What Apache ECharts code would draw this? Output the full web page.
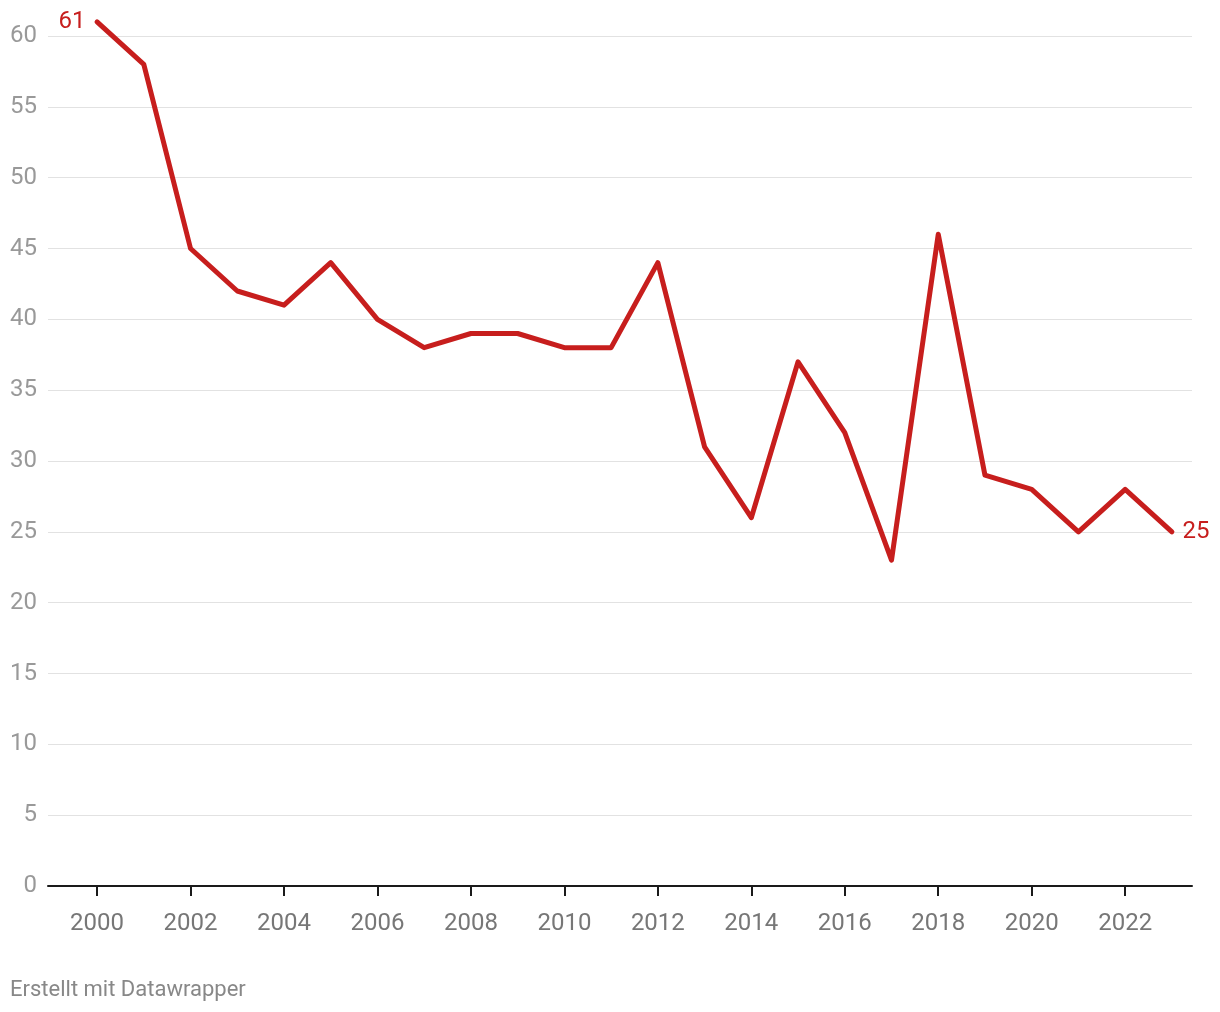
<!DOCTYPE html>
<html>
<head>
<meta charset="utf-8">
<script src="https://cdn.jsdelivr.net/npm/echarts@6/dist/echarts.min.js"></script>
<style>
	html, body { margin: 0; padding: 0; background: #fff; }
	#main { width: 1220px; height: 1012px; }
</style>
</head>
<body>
<div id="main"></div>
<script>
// Jahre und Werte
var years = [2000, 2001, 2002, 2003, 2004, 2005, 2006, 2007, 2008, 2009, 2010, 2011,
	2012, 2013, 2014, 2015, 2016, 2017, 2018, 2019, 2020, 2021, 2022, 2023];
var values = [61, 58, 45, 42, 41, 44, 40, 38, 39, 39, 38, 38,
	44, 31, 26, 37, 32, 23, 46, 29, 28, 25, 28, 25];
var xTicks = [2000, 2002, 2004, 2006, 2008, 2010, 2012, 2014, 2016, 2018, 2020, 2022];

var red = '#c71e1d';

function buildData() {
	var data = [];
	for (var i = 0; i < years.length; i++) {
		var item = { value: [years[i], values[i]] };
		if (i == 0) {
			item.label = { show: true, position: 'left', distance: 11 };
		} else if (i == years.length - 1) {
			item.label = { show: true, position: 'right', distance: 10 };
		}
		data.push(item);
	}
	return data;
}

var myChart = echarts.init(document.getElementById('main'));
myChart.setOption({
	animation: false,
	textStyle: { fontFamily: 'Roboto' },
	grid: { left: 48, right: 28, top: 36, bottom: 126, containLabel: false },
	graphic: [ {
		type: 'text',
		left: 10,
		top: 979,
		style: { text: 'Erstellt mit Datawrapper', fill: '#888', fontSize: 22, fontFamily: 'Roboto' }
	} ],
	xAxis: {
		type: 'value',
		min: 1998.95,
		max: 2023.43,
		splitLine: { show: false },
		axisLine: { show: true, onZero: false, lineStyle: { color: '#1a1a1a', width: 2 } },
		axisTick: { show: true, customValues: xTicks, length: 10, lineStyle: { color: '#1a1a1a', width: 2 } },
		axisLabel: {
			customValues: xTicks,
			color: '#777',
			fontSize: 24,
			margin: 26,
			formatter: function (v) { return String(v); }
		}
	},
	yAxis: {
		type: 'value',
		min: 0,
		max: 60,
		interval: 5,
		axisLine: { show: false },
		axisTick: { show: false },
		axisLabel: { color: '#999', fontSize: 24, margin: 11, padding: [4, 0, 0, 0] },
		splitLine: { lineStyle: { color: '#e2e2e2', width: 1 } }
	},
	series: [ {
		type: 'line',
		data: buildData(),
		clip: false,
		symbol: 'circle',
		symbolSize: 1,
		showSymbol: true,
		lineStyle: { color: red, width: 5, join: 'round', cap: 'round' },
		itemStyle: { color: red },
		label: { show: false, color: red, fontSize: 24, formatter: function (p) { return p.value[1]; } },
		z: 5
	} ]
});
</script>
</body>
</html>
